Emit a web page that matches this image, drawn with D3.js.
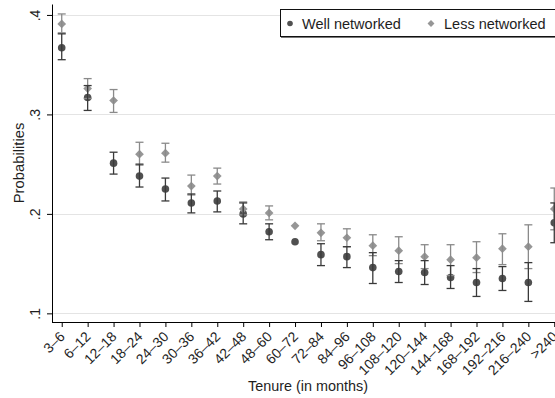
<!DOCTYPE html>
<html>
<head>
<meta charset="utf-8">
<script src="https://cdn.jsdelivr.net/npm/d3@7"></script>
<style>
  body { margin: 0; background: #fff; }
  svg { display: block; font-family: "Liberation Sans", Arial, sans-serif; }
  svg text { font-family: "Liberation Sans", Arial, sans-serif; }
</style>
</head>
<body>
<div id="chart"></div>
<script>
// Categories (tenure bins)
var categories = ["3–6", "6–12", "12–18", "18–24", "24–30", "30–36", "36–42", "42–48", "48–60", "60–72",
  "72–84", "84–96", "96–108", "108–120", "120–144", "144–168", "168–192", "192–216", "216–240", ">240"];

// Well networked: estimate, lower and upper CI
var wellEst = [0.367, 0.317, 0.251, 0.238, 0.225, 0.211, 0.213, 0.200, 0.182, 0.172,
  0.159, 0.157, 0.146, 0.142, 0.141, 0.136, 0.131, 0.135, 0.131, 0.191];
var wellLo = [0.355, 0.304, 0.240, 0.227, 0.213, 0.201, 0.202, 0.190, 0.174, null,
  0.148, 0.146, 0.130, 0.131, 0.129, 0.125, 0.117, 0.123, 0.112, 0.171];
var wellHi = [0.381, 0.329, 0.262, 0.250, 0.236, 0.220, 0.223, 0.211, 0.190, null,
  0.170, 0.167, 0.161, 0.153, 0.153, 0.148, 0.145, 0.147, 0.151, 0.211];

// Less networked: estimate, lower and upper CI
var lessEst = [0.391, 0.326, 0.314, 0.260, 0.261, 0.228, 0.238, 0.205, 0.201, 0.188,
  0.181, 0.176, 0.168, 0.163, 0.157, 0.154, 0.156, 0.165, 0.167, 0.205];
var lessLo = [0.382, 0.316, 0.302, 0.249, 0.252, 0.219, 0.230, 0.199, 0.194, null,
  0.173, 0.167, 0.158, 0.150, 0.145, 0.138, 0.141, 0.149, 0.145, 0.184];
var lessHi = [0.401, 0.336, 0.325, 0.272, 0.271, 0.239, 0.246, 0.212, 0.208, null,
  0.190, 0.185, 0.179, 0.177, 0.169, 0.169, 0.172, 0.180, 0.189, 0.226];

var yTicks = [0.1, 0.2, 0.3, 0.4];
var seriesNames = ["Well networked", "Less networked"];

var svgWidth = 555;
var svgHeight = 398;

var darkFill = "#505050", darkLine = "#3a3a3a";
var lightFill = "#969696", lightLine = "#8a8a8a";
var textColor = "#1e1e1e";

var svg = d3.select("#chart")
  .append("svg")
  .attr("width", svgWidth)
  .attr("height", svgHeight);

var x = d3.scalePoint()
  .domain(categories)
  .range([52, 564])
  .padding(0.375);

var y = d3.scaleLinear()
  .domain([0.0913, 0.411])
  .range([322, 4]);

// gridlines
svg.append("g")
  .selectAll("line")
  .data(yTicks)
  .enter()
  .append("line")
  .attr("x1", 52)
  .attr("x2", svgWidth)
  .attr("y1", d => Math.round(y(d)) + 0.5)
  .attr("y2", d => Math.round(y(d)) + 0.5)
  .attr("stroke", "#e4e4e4")
  .attr("stroke-width", 1);

// build rows for each series
function rows(est, lo, hi) {
  return categories.map((c, i) => ({ cat: c, est: est[i], lo: lo[i], hi: hi[i] }));
}
var well = rows(wellEst, wellLo, wellHi);
var less = rows(lessEst, lessLo, lessHi);

// markers
svg.append("g")
  .selectAll("circle")
  .data(well)
  .enter()
  .append("circle")
  .attr("cx", d => x(d.cat))
  .attr("cy", d => y(d.est))
  .attr("r", 3.8)
  .attr("fill", darkFill);

var diamond = d3.symbol().type(d3.symbolSquare).size(38);
svg.append("g")
  .selectAll("path")
  .data(less)
  .enter()
  .append("path")
  .attr("d", diamond)
  .attr("transform", d => `translate(${x(d.cat)},${y(d.est)}) rotate(45)`)
  .attr("fill", lightFill);

// error bars with caps
function drawCaps(data, color) {
  var g = svg.append("g")
    .attr("stroke", color)
    .attr("stroke-width", 1.3)
    .selectAll("g")
    .data(data.filter(d => d.lo != null))
    .enter()
    .append("g");
  g.append("line")
    .attr("x1", d => x(d.cat)).attr("x2", d => x(d.cat))
    .attr("y1", d => y(d.lo)).attr("y2", d => y(d.hi));
  g.append("line")
    .attr("x1", d => x(d.cat) - 4).attr("x2", d => x(d.cat) + 4)
    .attr("y1", d => y(d.lo)).attr("y2", d => y(d.lo));
  g.append("line")
    .attr("x1", d => x(d.cat) - 4).attr("x2", d => x(d.cat) + 4)
    .attr("y1", d => y(d.hi)).attr("y2", d => y(d.hi));
}
drawCaps(less, lightLine);
drawCaps(well, darkLine);

// axes
var xAxis = svg.append("g")
  .attr("transform", "translate(0,322)")
  .call(d3.axisBottom(x).tickSize(5).tickSizeOuter(0));
xAxis.attr("font-size", null).attr("font-family", null);
xAxis.select(".domain").attr("d", `M52,0.5H${svgWidth}`);
xAxis.selectAll(".tick text")
  .attr("x", 0)
  .attr("y", 0)
  .attr("dy", ".35em")
  .attr("text-anchor", "end")
  .attr("transform", "translate(0,12) rotate(-45)")
  .style("font-size", "14px")
  .attr("fill", textColor);

var yAxis = svg.append("g")
  .attr("transform", "translate(52,0)")
  .call(d3.axisLeft(y).tickValues(yTicks).tickSize(5).tickSizeOuter(0)
    .tickFormat(d => d3.format(".1f")(d).replace(/^0/, "")));
yAxis.attr("font-size", null).attr("font-family", null);
yAxis.selectAll(".tick text")
  .attr("x", 0)
  .attr("y", -12)
  .attr("dy", 0)
  .attr("text-anchor", "middle")
  .attr("transform", "rotate(-90)")
  .style("font-size", "14px")
  .attr("fill", textColor);

// axis titles
svg.append("text")
  .attr("x", 308)
  .attr("y", 391)
  .attr("text-anchor", "middle")
  .style("font-size", "14.4px")
  .attr("fill", textColor)
  .text("Tenure (in months)");

svg.append("text")
  .attr("transform", "translate(24,163) rotate(-90)")
  .attr("text-anchor", "middle")
  .style("font-size", "14.8px")
  .attr("fill", textColor)
  .text("Probabilities");

// legend
var legend = svg.append("g");
legend.append("rect")
  .attr("x", 280.5)
  .attr("y", 9.5)
  .attr("width", 300)
  .attr("height", 27)
  .attr("fill", "#fff")
  .attr("stroke", "#111")
  .attr("stroke-width", 1);
legend.append("line")
  .attr("x1", 281).attr("x2", svgWidth)
  .attr("y1", 37.5).attr("y2", 37.5)
  .attr("stroke", "#777");
legend.append("circle")
  .attr("cx", 290).attr("cy", 23.5).attr("r", 2.8)
  .attr("fill", darkFill);
legend.append("path")
  .attr("d", d3.symbol().type(d3.symbolSquare).size(24))
  .attr("transform", "translate(431,23.5) rotate(45)")
  .attr("fill", lightFill);
legend.selectAll("text.lab")
  .data(seriesNames)
  .enter()
  .append("text")
  .attr("class", "lab")
  .attr("x", (d, i) => i === 0 ? 302 : 444)
  .attr("y", 29)
  .style("font-size", "14.5px")
  .attr("fill", textColor)
  .text(d => d);
</script>
</body>
</html>
